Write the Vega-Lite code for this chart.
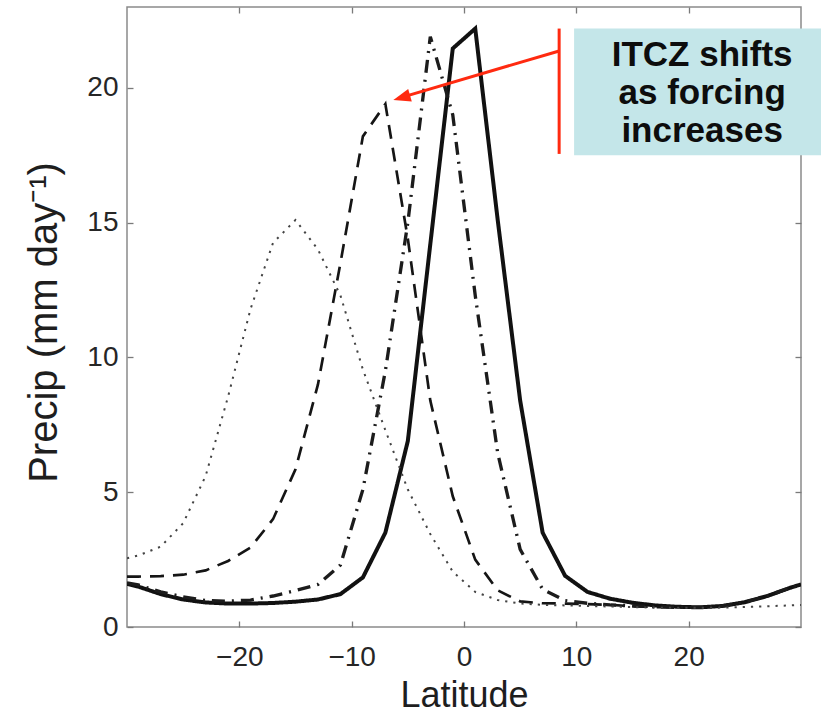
{
  "$schema": "https://vega.github.io/schema/vega-lite/v6.json",
  "width": 674,
  "height": 620,
  "autosize": "none",
  "padding": {"left": 127, "top": 7, "right": 20, "bottom": 87},
  "background": "white",
  "config": {
    "view": {"stroke": "#8a8a8a", "strokeWidth": 1.5},
    "font": "Liberation Sans",
    "axis": {"domain": false, "grid": false, "tickColor": "#7a7a7a", "tickWidth": 1.3, "tickSize": -6, "labelFont": "Liberation Sans", "labelFontSize": 28, "labelColor": "#262626", "titleFont": "Liberation Sans", "titleFontWeight": "normal", "titleColor": "#1e1e1e"}
  },
  "datasets": {
    "curves": [
      {"lat": -30, "precip": 1.6, "run": "S"}, {"lat": -29, "precip": 1.5, "run": "S"}, {"lat": -27, "precip": 1.22, "run": "S"}, {"lat": -25, "precip": 1.02, "run": "S"}, {"lat": -23, "precip": 0.91, "run": "S"}, {"lat": -21, "precip": 0.87, "run": "S"}, {"lat": -19, "precip": 0.87, "run": "S"}, {"lat": -17, "precip": 0.89, "run": "S"}, {"lat": -15, "precip": 0.94, "run": "S"}, {"lat": -13, "precip": 1.02, "run": "S"}, {"lat": -11, "precip": 1.22, "run": "S"}, {"lat": -9, "precip": 1.84, "run": "S"}, {"lat": -7, "precip": 3.5, "run": "S"}, {"lat": -5, "precip": 6.9, "run": "S"}, {"lat": -3, "precip": 14.2, "run": "S"}, {"lat": -1, "precip": 21.46, "run": "S"}, {"lat": 1, "precip": 22.2, "run": "S"}, {"lat": 3, "precip": 15.1, "run": "S"}, {"lat": 5, "precip": 8.4, "run": "S"}, {"lat": 7, "precip": 3.5, "run": "S"}, {"lat": 9, "precip": 1.9, "run": "S"}, {"lat": 11, "precip": 1.3, "run": "S"}, {"lat": 13, "precip": 1.05, "run": "S"}, {"lat": 15, "precip": 0.9, "run": "S"}, {"lat": 17, "precip": 0.8, "run": "S"}, {"lat": 19, "precip": 0.75, "run": "S"}, {"lat": 21, "precip": 0.73, "run": "S"}, {"lat": 23, "precip": 0.78, "run": "S"}, {"lat": 25, "precip": 0.92, "run": "S"}, {"lat": 27, "precip": 1.15, "run": "S"}, {"lat": 29, "precip": 1.45, "run": "S"}, {"lat": 30, "precip": 1.58, "run": "S"},

      {"lat": -30, "precip": 1.87, "run": "D"}, {"lat": -29, "precip": 1.87, "run": "D"}, {"lat": -27, "precip": 1.89, "run": "D"}, {"lat": -25, "precip": 1.94, "run": "D"}, {"lat": -23, "precip": 2.1, "run": "D"}, {"lat": -21, "precip": 2.45, "run": "D"}, {"lat": -19, "precip": 2.95, "run": "D"}, {"lat": -17, "precip": 4.0, "run": "D"}, {"lat": -15, "precip": 5.85, "run": "D"}, {"lat": -13, "precip": 9.0, "run": "D"}, {"lat": -11, "precip": 13.5, "run": "D"}, {"lat": -9, "precip": 18.2, "run": "D"}, {"lat": -7, "precip": 19.4, "run": "D"}, {"lat": -5, "precip": 14.4, "run": "D"}, {"lat": -3, "precip": 8.4, "run": "D"}, {"lat": -1, "precip": 4.85, "run": "D"}, {"lat": 1, "precip": 2.5, "run": "D"}, {"lat": 3, "precip": 1.36, "run": "D"}, {"lat": 5, "precip": 0.95, "run": "D"}, {"lat": 7, "precip": 0.88, "run": "D"}, {"lat": 9, "precip": 0.87, "run": "D"}, {"lat": 11, "precip": 0.85, "run": "D"}, {"lat": 13, "precip": 0.82, "run": "D"}, {"lat": 15, "precip": 0.77, "run": "D"}, {"lat": 17, "precip": 0.74, "run": "D"}, {"lat": 19, "precip": 0.73, "run": "D"}, {"lat": 21, "precip": 0.73, "run": "D"}, {"lat": 23, "precip": 0.78, "run": "D"}, {"lat": 25, "precip": 0.92, "run": "D"}, {"lat": 27, "precip": 1.15, "run": "D"}, {"lat": 29, "precip": 1.45, "run": "D"}, {"lat": 30, "precip": 1.58, "run": "D"},

      {"lat": -30, "precip": 1.64, "run": "DD"}, {"lat": -29, "precip": 1.56, "run": "DD"}, {"lat": -27, "precip": 1.3, "run": "DD"}, {"lat": -25, "precip": 1.12, "run": "DD"}, {"lat": -23, "precip": 0.98, "run": "DD"}, {"lat": -21, "precip": 0.96, "run": "DD"}, {"lat": -19, "precip": 1.0, "run": "DD"}, {"lat": -17, "precip": 1.15, "run": "DD"}, {"lat": -15, "precip": 1.35, "run": "DD"}, {"lat": -13, "precip": 1.58, "run": "DD"}, {"lat": -11, "precip": 2.3, "run": "DD"}, {"lat": -9, "precip": 5.1, "run": "DD"}, {"lat": -7, "precip": 9.5, "run": "DD"}, {"lat": -5, "precip": 15.0, "run": "DD"}, {"lat": -3, "precip": 21.9, "run": "DD"}, {"lat": -1, "precip": 19.0, "run": "DD"}, {"lat": 1, "precip": 12.3, "run": "DD"}, {"lat": 3, "precip": 6.45, "run": "DD"}, {"lat": 5, "precip": 2.88, "run": "DD"}, {"lat": 7, "precip": 1.4, "run": "DD"}, {"lat": 9, "precip": 0.98, "run": "DD"}, {"lat": 11, "precip": 0.88, "run": "DD"}, {"lat": 13, "precip": 0.82, "run": "DD"}, {"lat": 15, "precip": 0.78, "run": "DD"}, {"lat": 17, "precip": 0.75, "run": "DD"}, {"lat": 19, "precip": 0.73, "run": "DD"}, {"lat": 21, "precip": 0.73, "run": "DD"}, {"lat": 23, "precip": 0.78, "run": "DD"}, {"lat": 25, "precip": 0.92, "run": "DD"}, {"lat": 27, "precip": 1.15, "run": "DD"}, {"lat": 29, "precip": 1.45, "run": "DD"}, {"lat": 30, "precip": 1.58, "run": "DD"},

      {"lat": -30, "precip": 2.55, "run": "P"}, {"lat": -29, "precip": 2.65, "run": "P"}, {"lat": -27, "precip": 2.98, "run": "P"}, {"lat": -25, "precip": 3.85, "run": "P"}, {"lat": -23, "precip": 5.6, "run": "P"}, {"lat": -21, "precip": 8.55, "run": "P"}, {"lat": -19, "precip": 11.8, "run": "P"}, {"lat": -17, "precip": 14.25, "run": "P"}, {"lat": -15, "precip": 15.1, "run": "P"}, {"lat": -13, "precip": 14.0, "run": "P"}, {"lat": -11, "precip": 12.3, "run": "P"}, {"lat": -9, "precip": 9.55, "run": "P"}, {"lat": -7, "precip": 7.3, "run": "P"}, {"lat": -5, "precip": 5.1, "run": "P"}, {"lat": -3, "precip": 3.45, "run": "P"}, {"lat": -1, "precip": 2.05, "run": "P"}, {"lat": 1, "precip": 1.3, "run": "P"}, {"lat": 3, "precip": 1.0, "run": "P"}, {"lat": 5, "precip": 0.87, "run": "P"}, {"lat": 7, "precip": 0.82, "run": "P"}, {"lat": 9, "precip": 0.8, "run": "P"}, {"lat": 11, "precip": 0.78, "run": "P"}, {"lat": 13, "precip": 0.76, "run": "P"}, {"lat": 15, "precip": 0.74, "run": "P"}, {"lat": 17, "precip": 0.72, "run": "P"}, {"lat": 19, "precip": 0.71, "run": "P"}, {"lat": 21, "precip": 0.71, "run": "P"}, {"lat": 23, "precip": 0.72, "run": "P"}, {"lat": 25, "precip": 0.74, "run": "P"}, {"lat": 27, "precip": 0.77, "run": "P"}, {"lat": 29, "precip": 0.8, "run": "P"}, {"lat": 30, "precip": 0.82, "run": "P"}
    ],
    "box": [{"x1": 9.8, "x2": 31.8, "y1": 17.5, "y2": 22.2}],
    "labels": [
      {"x": 21.2, "y": 20.8, "text": "ITCZ shifts"},
      {"x": 21.2, "y": 19.42, "text": "as forcing"},
      {"x": 21.2, "y": 17.98, "text": "increases"}
    ],
    "redv": [{"x": 8.47, "y1": 17.55, "y2": 22.2}],
    "arrow": [{"x1": 8.47, "y1": 21.37, "x2": -5.7, "y2": 19.63}],
    "head": [{"x": -6.29, "y": 19.55}]
  },
  "resolve": {"axis": {"x": "independent", "y": "independent"}},
  "layer": [
    {
      "data": {"name": "curves"},
      "mark": {"type": "line", "clip": true, "strokeCap": "butt", "strokeJoin": "miter"},
      "encoding": {
        "x": {"field": "lat", "type": "quantitative", "scale": {"domain": [-30, 30], "nice": false, "zero": false},
              "axis": {"orient": "bottom", "values": [-20, -10, 0, 10, 20], "labelPadding": 22, "title": "Latitude", "titleFontSize": 36, "titleBaseline": "alphabetic", "titleY": 79}},
        "y": {"field": "precip", "type": "quantitative", "scale": {"domain": [0, 23], "nice": false, "zero": true},
              "axis": {"orient": "left", "values": [0, 5, 10, 15, 20], "labelPadding": 15, "title": "Precip (mm day⁻¹)", "titleFontSize": 40, "titleAngle": 270, "titleAlign": "center", "titleBaseline": "alphabetic", "titleX": -71, "titleY": 315}},
        "detail": {"field": "run", "type": "nominal"},
        "color": {"field": "run", "type": "nominal", "legend": null, "scale": {"domain": ["P", "D", "DD", "S"], "range": ["#444444", "#151515", "#1c1c1c", "#111111"]}},
        "strokeDash": {"field": "run", "type": "nominal", "legend": null, "scale": {"domain": ["P", "D", "DD", "S"], "range": [[2.2, 6], [14, 9], [13, 7, 2, 7], [1, 0]]}},
        "strokeWidth": {"field": "run", "type": "nominal", "legend": null, "scale": {"domain": ["P", "D", "DD", "S"], "range": [2, 4, 3, 3.2]}}
      }
    },
    {
      "data": {"name": "box"},
      "mark": {"type": "rect", "color": "#c4e6e9"},
      "encoding": {
        "x": {"field": "x1", "type": "quantitative", "scale": {"domain": [-30, 30], "nice": false, "zero": false},
              "axis": {"orient": "top", "values": [-20, -10, 0, 10, 20], "labels": false, "title": null}},
        "x2": {"field": "x2"},
        "y": {"field": "y1", "type": "quantitative", "scale": {"domain": [0, 23], "nice": false, "zero": true},
              "axis": {"orient": "right", "values": [0, 5, 10, 15, 20], "labels": false, "title": null}},
        "y2": {"field": "y2"}
      }
    },
    {
      "data": {"name": "labels"},
      "mark": {"type": "text", "font": "Liberation Sans", "fontWeight": "bold", "fontSize": 35, "align": "center", "baseline": "alphabetic", "color": "#0d0d0d"},
      "encoding": {
        "x": {"field": "x", "type": "quantitative", "axis": null},
        "y": {"field": "y", "type": "quantitative", "axis": null},
        "text": {"field": "text", "type": "nominal"}
      }
    },
    {
      "data": {"name": "redv"},
      "mark": {"type": "rule", "color": "#ff2a10", "strokeWidth": 3},
      "encoding": {
        "x": {"field": "x", "type": "quantitative", "axis": null},
        "y": {"field": "y1", "type": "quantitative", "axis": null},
        "y2": {"field": "y2"}
      }
    },
    {
      "data": {"name": "arrow"},
      "mark": {"type": "rule", "color": "#ff2a10", "strokeWidth": 3},
      "encoding": {
        "x": {"field": "x1", "type": "quantitative", "axis": null},
        "y": {"field": "y1", "type": "quantitative", "axis": null},
        "x2": {"field": "x2"},
        "y2": {"field": "y2"}
      }
    },
    {
      "data": {"name": "head"},
      "mark": {"type": "point", "shape": "M0,0L0.75,2L-0.75,2Z", "filled": true, "color": "#ff2a10", "opacity": 1, "size": 300, "angle": 254},
      "encoding": {
        "x": {"field": "x", "type": "quantitative", "axis": null},
        "y": {"field": "y", "type": "quantitative", "axis": null}
      }
    }
  ]
}
